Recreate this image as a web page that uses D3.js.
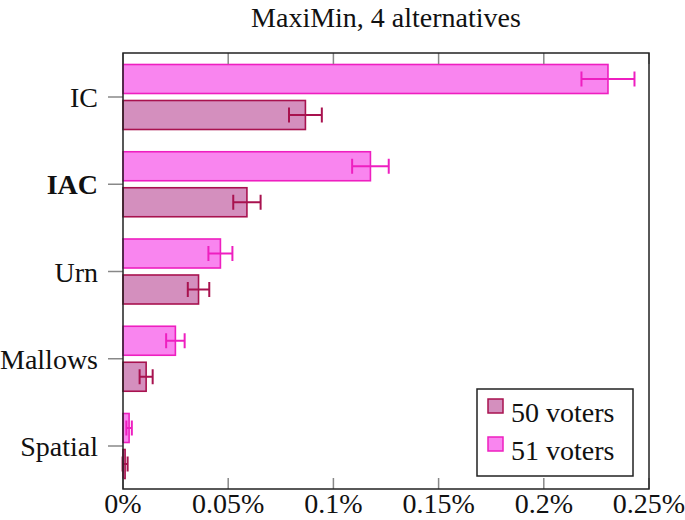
<!DOCTYPE html>
<html>
<head>
<meta charset="utf-8">
<script src="https://cdn.jsdelivr.net/npm/d3@7/dist/d3.min.js"></script>
<style>
  html, body { margin: 0; padding: 0; background: #fff; }
  svg { display: block; }
  text { font-family: "Liberation Serif", "Times New Roman", serif; fill: #111; }
</style>
</head>
<body>
<svg id="chart" width="685" height="520"></svg>
<script>
const categories = ["IC", "IAC", "Urn", "Mallows", "Spatial"];
const boldCategories = ["IAC"];
const values50 = [0.0867, 0.0589, 0.0359, 0.0110, 0.0010];
const errors50 = [0.0078, 0.0065, 0.0051, 0.0031, 0.0012];
const values51 = [0.2305, 0.1176, 0.0463, 0.0249, 0.0029];
const errors51 = [0.0126, 0.0087, 0.0057, 0.0044, 0.0013];
const xTicks = [0, 0.05, 0.1, 0.15, 0.2, 0.25];
const xTickLabels = ["0%", "0.05%", "0.1%", "0.15%", "0.2%", "0.25%"];
const seriesNames = ["50 voters", "51 voters"];
const chartTitle = "MaxiMin, 4 alternatives";

const series = [
  { name: seriesNames[0], values: values50, errors: errors50, fill: "#d48fbe", stroke: "#a8124f", shift: 18 },
  { name: seriesNames[1], values: values51, errors: errors51, fill: "#f985ef", stroke: "#ee1fc0", shift: -18 }
];

const svg = d3.select("#chart");
const pLeft = 123, pRight = 649, pTop = 53, pBottom = 489;
const x = d3.scaleLinear().domain([0, 0.25]).range([pLeft, pRight]);
const y = d3.scalePoint().domain(categories).range([97, 446]);
const barH = 29;

// bars
series.forEach(s => {
  const g = svg.append("g");
  g.selectAll("rect").data(categories).join("rect")
    .attr("x", x(0))
    .attr("y", (c) => y(c) + s.shift - barH / 2)
    .attr("width", (c, i) => x(s.values[i]) - x(0))
    .attr("height", barH)
    .attr("fill", s.fill)
    .attr("stroke", s.stroke)
    .attr("stroke-width", 1.6);
  categories.forEach((c, i) => {
    const cy = y(c) + s.shift;
    const x1 = x(s.values[i] - s.errors[i]), x2 = x(s.values[i] + s.errors[i]);
    g.append("line").attr("x1", x1).attr("x2", x2).attr("y1", cy).attr("y2", cy)
      .attr("stroke", s.stroke).attr("stroke-width", 2);
    [x1, x2].forEach(xx => g.append("line").attr("x1", xx).attr("x2", xx)
      .attr("y1", cy - 7.5).attr("y2", cy + 7.5).attr("stroke", s.stroke).attr("stroke-width", 2));
  });
});

// clip bottom overflow
svg.append("rect").attr("x", 0).attr("y", pBottom + 1).attr("width", 685).attr("height", 31).attr("fill", "#fff");

// x ticks (inside, top and bottom)
const tg = svg.append("g");
xTicks.forEach((t) => {
  tg.append("line").attr("x1", x(t)).attr("x2", x(t)).attr("y1", pBottom).attr("y2", pBottom - 11)
    .attr("stroke", "#888").attr("stroke-width", 1.5);
  tg.append("line").attr("x1", x(t)).attr("x2", x(t)).attr("y1", pTop).attr("y2", pTop + 11)
    .attr("stroke", "#888").attr("stroke-width", 1.5);
});
// y ticks (outside left)
categories.forEach(c => {
  tg.append("line").attr("x1", pLeft - 15).attr("x2", pLeft).attr("y1", y(c)).attr("y2", y(c))
    .attr("stroke", "#888").attr("stroke-width", 1.5);
});

// frame
svg.append("rect").attr("x", pLeft).attr("y", pTop).attr("width", pRight - pLeft).attr("height", pBottom - pTop)
  .attr("fill", "none").attr("stroke", "#222").attr("stroke-width", 1.5);

// tick labels
svg.append("g").selectAll("text").data(xTicks).join("text")
  .attr("x", d => x(d)).attr("y", 513)
  .attr("text-anchor", "middle").attr("font-size", 28)
  .text((d, i) => xTickLabels[i]);

svg.append("g").selectAll("text").data(categories).join("text")
  .attr("x", 98).attr("y", c => y(c) + 10)
  .attr("text-anchor", "end").attr("font-size", 28)
  .attr("font-weight", c => boldCategories.includes(c) ? "bold" : "normal")
  .text(c => c);

// title
svg.append("text").attr("x", (pLeft + pRight) / 2).attr("y", 27)
  .attr("text-anchor", "middle").attr("font-size", 28).text(chartTitle);

// legend
const lg = svg.append("g");
lg.append("rect").attr("x", 477).attr("y", 389).attr("width", 156).attr("height", 87)
  .attr("fill", "#fff").attr("stroke", "#222").attr("stroke-width", 1.5);
series.forEach((s, i) => {
  const yy = 399 + i * 38;
  lg.append("rect").attr("x", 488).attr("y", yy).attr("width", 15).attr("height", 14)
    .attr("fill", s.fill).attr("stroke", s.stroke).attr("stroke-width", 1.5);
  lg.append("text").attr("x", 511).attr("y", yy + 23).attr("font-size", 28).text(s.name);
});
</script>
</body>
</html>
